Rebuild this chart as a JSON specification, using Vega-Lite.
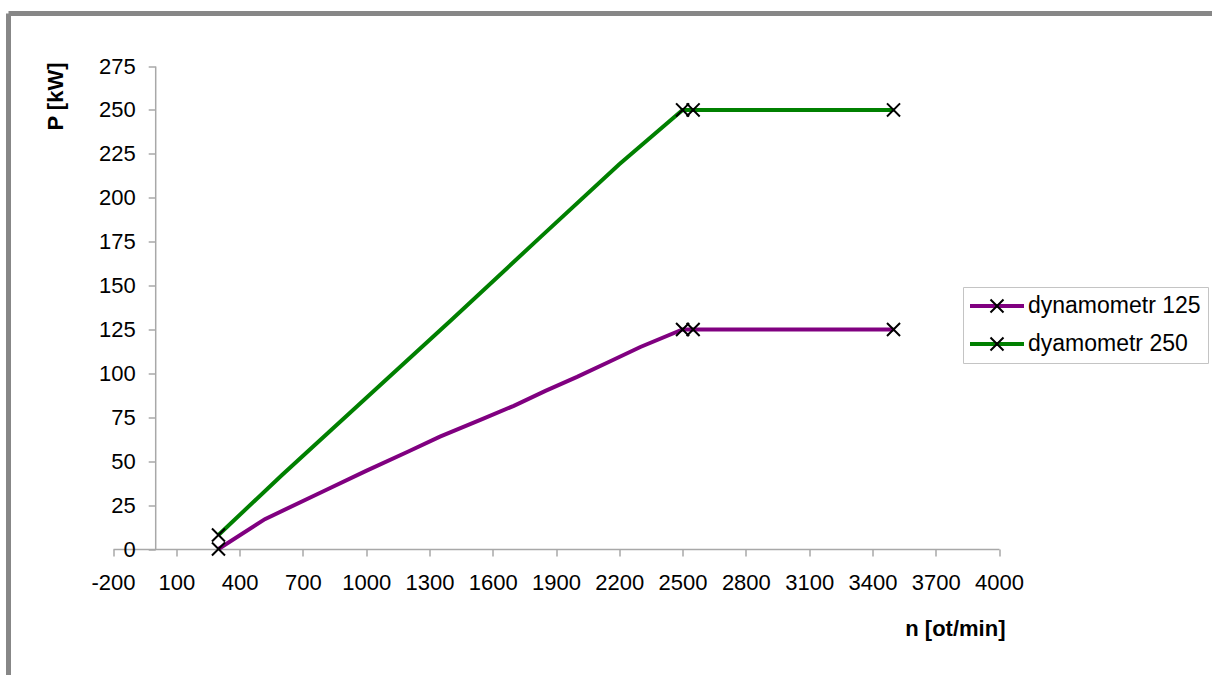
{
  "$schema": "https://vega.github.io/schema/vega-lite/v6.json",
  "width": 1203.5,
  "height": 661.5,
  "autosize": {"type": "none"},
  "padding": {"left": 8.5, "top": 13.5, "right": 0, "bottom": 0},
  "background": "white",
  "config": {
    "font": "Liberation Sans",
    "view": {"stroke": "#878787", "strokeWidth": 5, "strokeDash": [1203.5, 1865, 661.5, 0]},
    "axis": {
      "grid": false,
      "domainColor": "#a8a8a8",
      "domainWidth": 1.5,
      "tickColor": "#a8a8a8",
      "tickWidth": 1.5,
      "tickSize": 7,
      "labelFont": "Liberation Sans",
      "labelFontSize": 22,
      "labelColor": "black",
      "labelOverlap": false,
      "labelBound": false,
      "labelFlush": false,
      "titleFont": "Liberation Sans",
      "titleFontSize": 22,
      "titleFontWeight": "bold",
      "titleColor": "black"
    },
    "legend": {
      "labelFont": "Liberation Sans",
      "labelFontSize": 23,
      "labelColor": "black",
      "labelLimit": 400
    }
  },
  "data": {
    "values": [
      {"series": "dynamometr 125", "n": 300, "P": 0, "reading": true},
      {"series": "dynamometr 125", "n": 520, "P": 17, "reading": false},
      {"series": "dynamometr 125", "n": 800, "P": 33, "reading": false},
      {"series": "dynamometr 125", "n": 1000, "P": 44.5, "reading": false},
      {"series": "dynamometr 125", "n": 1200, "P": 55.5, "reading": false},
      {"series": "dynamometr 125", "n": 1350, "P": 64, "reading": false},
      {"series": "dynamometr 125", "n": 1550, "P": 74, "reading": false},
      {"series": "dynamometr 125", "n": 1700, "P": 81.5, "reading": false},
      {"series": "dynamometr 125", "n": 1850, "P": 90, "reading": false},
      {"series": "dynamometr 125", "n": 2000, "P": 98, "reading": false},
      {"series": "dynamometr 125", "n": 2150, "P": 106.5, "reading": false},
      {"series": "dynamometr 125", "n": 2300, "P": 115, "reading": false},
      {"series": "dynamometr 125", "n": 2500, "P": 125, "reading": true},
      {"series": "dynamometr 125", "n": 2550, "P": 125, "reading": true},
      {"series": "dynamometr 125", "n": 3500, "P": 125, "reading": true},
      {"series": "dyamometr 250", "n": 300, "P": 8, "reading": true},
      {"series": "dyamometr 250", "n": 600, "P": 42, "reading": false},
      {"series": "dyamometr 250", "n": 1000, "P": 86, "reading": false},
      {"series": "dyamometr 250", "n": 1400, "P": 130, "reading": false},
      {"series": "dyamometr 250", "n": 1830, "P": 178, "reading": false},
      {"series": "dyamometr 250", "n": 2200, "P": 219, "reading": false},
      {"series": "dyamometr 250", "n": 2500, "P": 250, "reading": true},
      {"series": "dyamometr 250", "n": 2550, "P": 250, "reading": true},
      {"series": "dyamometr 250", "n": 3500, "P": 250, "reading": true}
    ]
  },
  "encoding": {
    "x": {
      "field": "n",
      "type": "quantitative",
      "scale": {"domain": [-200, 4000], "range": [104.5, 990.5], "nice": false, "zero": false},
      "axis": {
        "title": "n [ot/min]",
        "orient": "bottom",
        "offset": -126,
        "values": [-200, 100, 400, 700, 1000, 1300, 1600, 1900, 2200, 2500, 2800, 3100, 3400, 3700, 4000],
        "labelExpr": "'' + datum.value",
        "labelBaseline": "middle",
        "labelPadding": 26,
        "titleX": 996.5,
        "titleY": 79,
        "titleAlign": "right",
        "titleAnchor": null,
        "titleBaseline": "middle"
      }
    },
    "y": {
      "field": "P",
      "type": "quantitative",
      "scale": {"domain": [0, 275], "range": [535.5, 52.5], "nice": false, "zero": false},
      "axis": {
        "title": "P [kW]",
        "orient": "left",
        "offset": -146.7,
        "values": [0, 25, 50, 75, 100, 125, 150, 175, 200, 225, 250, 275],
        "labelExpr": "'' + datum.value",
        "labelPadding": 13,
        "labelBaseline": "middle",
        "titleX": -100,
        "titleY": 82.5,
        "titleAngle": 270,
        "titleAlign": "center",
        "titleAnchor": null,
        "titleBaseline": "middle"
      }
    }
  },
  "layer": [
    {
      "mark": {"type": "line", "strokeWidth": 4, "strokeCap": "butt"},
      "encoding": {
        "color": {
          "field": "series",
          "type": "nominal",
          "sort": ["dynamometr 125", "dyamometr 250"],
          "scale": {"domain": ["dynamometr 125", "dyamometr 250"], "range": ["#800080", "#008000"]},
          "legend": {
            "title": null,
            "orient": "none",
            "legendX": 954.5,
            "legendY": 273.5,
            "symbolType": "stroke",
            "symbolSize": 2916,
            "symbolStrokeWidth": 4,
            "clipHeight": 24,
            "padding": 7,
            "symbolOffset": -2,
            "labelOffset": 2,
            "rowPadding": 14,
            "strokeColor": "#c4c4c4",
            "fillColor": "white",
            "zindex": 1
          }
        }
      }
    },
    {
      "transform": [{"filter": "datum.reading"}],
      "mark": {"type": "point", "filled": false, "stroke": "black", "strokeWidth": 2, "size": 170, "opacity": 1},
      "encoding": {
        "shape": {
          "field": "series",
          "type": "nominal",
          "scale": {"domain": ["dyamometr 250", "dynamometr 125"], "range": ["M-1,-1L1,1M-1,1L1,-1", "M-1,-1L1,1M-1,1L1,-1"]},
          "legend": {
            "title": null,
            "orient": "none",
            "legendX": 970,
            "legendY": 273.5,
            "clipHeight": 24,
            "padding": 7,
            "rowPadding": 14,
            "symbolOffset": 0,
            "symbolSize": 170,
            "symbolStrokeColor": "black",
            "symbolFillColor": "transparent",
            "symbolStrokeWidth": 2,
            "labelExpr": "''",
            "zindex": 2
          }
        }
      }
    }
  ]
}
